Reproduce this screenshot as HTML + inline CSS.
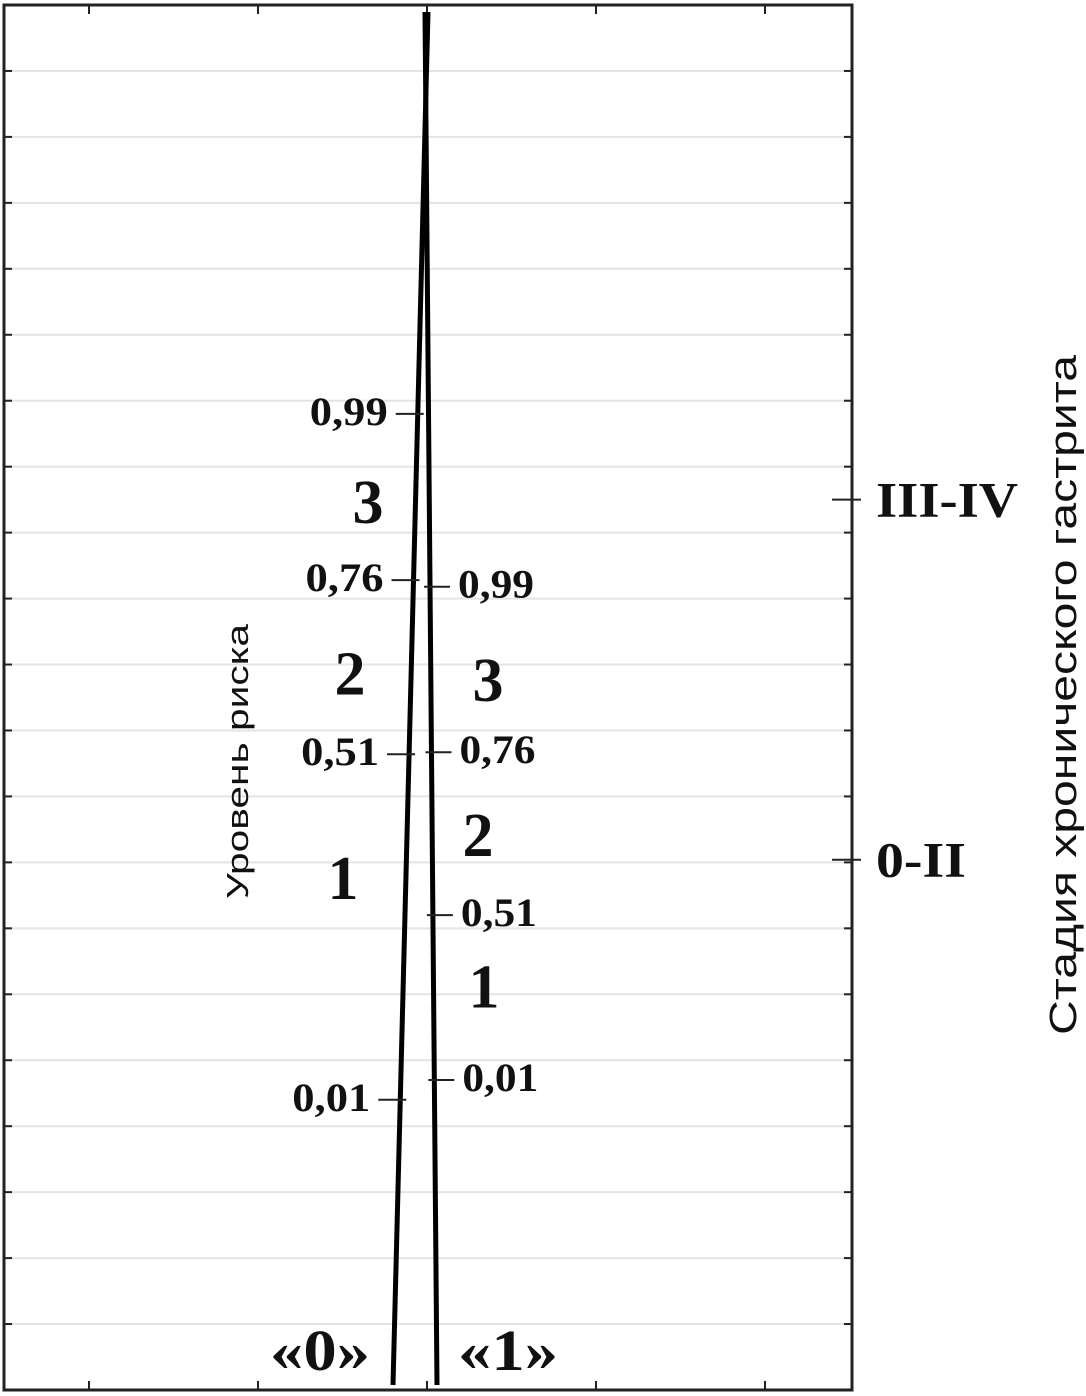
<!DOCTYPE html>
<html><head><meta charset="utf-8"><style>
html,body{margin:0;padding:0;background:#fff;}
svg{display:block;}
text{font-family:"Liberation Serif",serif;font-weight:bold;fill:#111;}
.sans{font-family:"Liberation Sans",sans-serif;font-weight:normal;}
</style></head><body>
<svg id="chart" width="1086" height="1396" viewBox="0 0 1086 1396"></svg>
<script>
// data (positions in grid units from top, 0..21)
const leftTickLabels = ["0,99","0,76","0,51","0,01"];
const leftTickUnits = [6.20, 8.72, 11.36, 16.6];
const rightTickLabels = ["0,99","0,76","0,51","0,01"];
const rightTickUnits = [8.82, 11.33, 13.8, 16.3];
const leftRiskLevels = ["3","2","1"];
const leftRiskUnits = [7.55, 10.15, 13.25];
const rightRiskLevels = ["3","2","1"];
const rightRiskUnits = [10.25, 12.6, 14.9];
const stageLabels = ["III-IV","0-II"];
const stageUnits = [7.5, 12.96];

const svg = document.getElementById('chart');
const NS = 'http://www.w3.org/2000/svg';
const top0 = 5, bot0 = 1390, left0 = 4, right0 = 852;
const unitPx = (bot0 - top0) / 21;
function yScale(u){ return top0 + u * unitPx; }
function mk(tag, attrs){ const e = document.createElementNS(NS, tag); for (const k in attrs) e.setAttribute(k, attrs[k]); svg.appendChild(e); return e; }
const lineL = {x1:428, y1:12, x2:393, y2:1385};
const lineR = {x1:425, y1:12, x2:437, y2:1385};
function xOn(l, y){ return l.x1 + (l.x2 - l.x1) * (y - l.y1) / (l.y2 - l.y1); }

for (let i = 1; i < 21; i++) {
  const y = yScale(i);
  const g = mk('line', {x1:left0, x2:right0, y1:y, y2:y, stroke:'#e4e4e4', 'stroke-width':2});
  
  
  const t = mk('line', {x1:left0, x2:left0+8, y1:y, y2:y, stroke:'#222', 'stroke-width':2});
  
  
  const t2 = mk('line', {x1:right0-8, x2:right0, y1:y, y2:y, stroke:'#222', 'stroke-width':2});
  
  
}
[89, 258, 427, 596, 765].forEach(x => {
  const a = mk('line', {x1:x, x2:x, y1:top0, y2:top0+9, stroke:'#222', 'stroke-width':2});
  
  
  const b = mk('line', {x1:x, x2:x, y1:bot0-9, y2:bot0, stroke:'#222', 'stroke-width':2});
  
  
});
const frame = mk('rect', {x:left0, y:top0, width:right0-left0, height:bot0-top0, fill:'none', stroke:'#222', 'stroke-width':3});



const l1 = mk('line', {x1:lineL.x1, y1:lineL.y1, x2:lineL.x2, y2:lineL.y2, stroke:'#000', 'stroke-width':5});


const l2 = mk('line', {x1:lineR.x1, y1:lineR.y1, x2:lineR.x2, y2:lineR.y2, stroke:'#000', 'stroke-width':5});



leftTickUnits.forEach((u, i) => {
  const y = yScale(u), x = xOn(lineL, y);
  const t = mk('line', {x1:x-22, x2:x+6, y1:y, y2:y, stroke:'#222', 'stroke-width':2});
  
  
  const tx = mk('text', {x:x-108, y:y+11, 'font-size':40, textLength:78, lengthAdjust:'spacingAndGlyphs'});
  tx.textContent = leftTickLabels[i];
  
  
});
rightTickUnits.forEach((u, i) => {
  const y = yScale(u), x = xOn(lineR, y);
  const t = mk('line', {x1:x-6, x2:x+20, y1:y, y2:y, stroke:'#222', 'stroke-width':2});
  
  
  const tx = mk('text', {x:x+28, y:y+11, 'font-size':40, textLength:76, lengthAdjust:'spacingAndGlyphs'});
  tx.textContent = rightTickLabels[i];
  
  
});
const lrx = [368, 350, 343];
leftRiskUnits.forEach((u, i) => {
  const tx = mk('text', {x:lrx[i], y:yScale(u)+20, 'text-anchor':'middle', 'font-size':62});
  tx.textContent = leftRiskLevels[i];
  
  
});
const rrx = [488, 478, 484];
rightRiskUnits.forEach((u, i) => {
  const tx = mk('text', {x:rrx[i], y:yScale(u)+20, 'text-anchor':'middle', 'font-size':62});
  tx.textContent = rightRiskLevels[i];
  
  
});
const stageW = [142, 90];
stageUnits.forEach((u, i) => {
  const y = yScale(u);
  const t = mk('line', {x1:832, x2:861, y1:y, y2:y, stroke:'#222', 'stroke-width':2});
  
  
  const tx = mk('text', {x:876, y:y+17, 'font-size':50, textLength:stageW[i], lengthAdjust:'spacingAndGlyphs'});
  tx.textContent = stageLabels[i];
  
  
});
const c0 = mk('text', {x:270, y:1370, 'font-size':58, textLength:100, lengthAdjust:'spacingAndGlyphs'});
c0.textContent = '«0»';


const c1 = mk('text', {x:458, y:1370, 'font-size':58, textLength:100, lengthAdjust:'spacingAndGlyphs'});
c1.textContent = '«1»';


const lt = mk('text', {x:-137, y:0, 'font-size':31, 'class':'sans', textLength:275, lengthAdjust:'spacingAndGlyphs', transform:'translate(248,762) rotate(-90)'});
lt.textContent = 'Уровень риска';


const rt = mk('text', {x:-340, y:0, 'font-size':38, 'class':'sans', textLength:680, lengthAdjust:'spacingAndGlyphs', transform:'translate(1076,695) rotate(-90)'});
rt.textContent = 'Стадия хронического гастрита';


</script>
</body></html>
